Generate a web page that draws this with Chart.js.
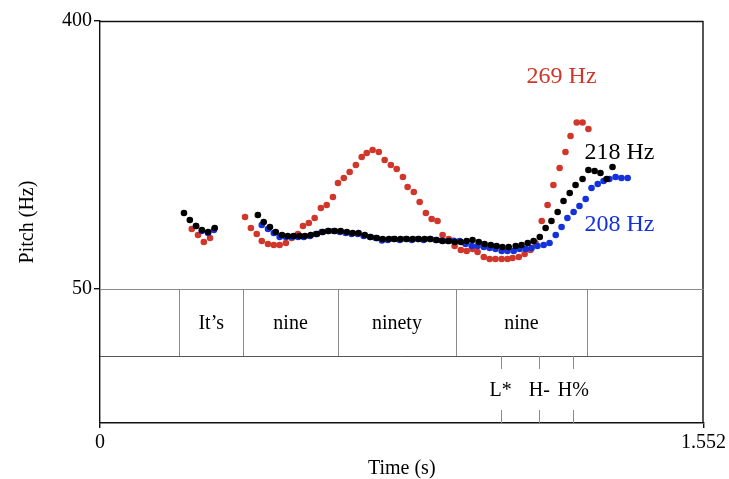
<!DOCTYPE html>
<html>
<head>
<meta charset="utf-8">
<title>Pitch tracks – It's nine ninety nine</title>
<script src="https://cdn.jsdelivr.net/npm/chart.js@4/dist/chart.umd.min.js"></script>
<style>
  html, body { margin:0; padding:0; background:#fff; }
  #wrap { width:729px; height:479px; }
</style>
</head>
<body>
<div id="wrap"><canvas id="pitch" width="729" height="479"></canvas></div>
<script>
// axes
const TIME_MAX = 1.552;
const PITCH_MIN = 50, PITCH_MAX = 400;
const TIME_TICKS = [0, 1.552];
const TIME_TICK_LABELS = ['0', '1.552'];
const PITCH_TICKS = [50, 400];

// pitch tracks (s, Hz)
const BLACK_T  = [0.216,0.231,0.247,0.262,0.278,0.295,
  0.406,0.421,0.437,0.452,0.468,0.483,0.498,0.514,0.527,0.542,
  0.558,0.573,0.588,0.604,0.619,0.635,0.650,0.665,0.681,0.696,
  0.712,0.727,0.743,0.758,0.773,0.789,0.804,0.820,0.835,0.850,
  0.866,0.881,0.897,0.912,0.928,0.943,0.958,0.974,0.989,1.005,
  1.020,1.035,1.051,1.069,1.084,1.100,1.115,1.131,1.146,1.161,
  1.177,1.192,1.208,1.223,1.241,1.256,1.272,1.287,1.303,1.318];
const BLACK_HZ = [149.3,140.1,132.3,127.0,124.4,129.7,
  146.6,137.5,131.0,124.4,120.5,119.2,119.2,119.2,119.2,120.5,
  121.8,124.4,125.7,125.7,125.7,124.4,123.1,123.1,120.5,117.9,
  116.6,115.3,115.3,115.3,115.3,115.3,115.3,115.3,115.3,115.3,
  114.0,112.7,112.7,111.4,111.4,112.7,114.0,111.4,108.8,107.5,
  106.1,104.8,104.8,106.1,107.5,110.1,112.7,117.9,129.7,138.8,
  150.6,164.9,175.4,185.8,193.7,205.4,204.1,201.5,193.7,209.3];

const BLUE_T  = [0.247,0.262,0.278,0.293,
  0.416,0.432,0.447,0.462,0.478,0.493,0.509,0.524,0.540,0.555,
  0.570,0.586,0.601,0.617,0.632,0.647,0.663,0.678,0.694,0.709,
  0.725,0.740,0.755,0.771,0.786,0.802,0.817,0.832,0.848,0.863,
  0.879,0.894,0.910,0.925,
  0.940,0.956,0.971,0.987,1.002,1.017,1.033,1.048,1.064,1.079,
  1.095,1.110,1.125,1.141,1.156,1.172,1.187,1.202,1.218,1.233,
  1.249,1.264,1.280,1.295,1.310,1.326,1.341,1.357];
const BLUE_HZ = [132.3,125.7,123.1,127.0,
  133.6,128.4,123.1,118.0,117.9,117.9,117.9,117.9,119.2,121.8,
  124.4,125.7,125.7,124.4,123.1,121.8,121.8,119.2,117.9,116.6,
  113.5,114.0,115.3,114.0,115.3,114.0,115.3,114.0,115.3,114.0,
  113.0,112.7,113.0,112.7,
  108.8,106.1,106.1,104.8,103.5,102.2,99.6,99.6,99.6,102.2,
  102.2,103.5,106.1,107.5,110.1,120.5,131.0,142.7,150.6,158.4,
  167.5,181.9,187.1,191.0,193.7,196.3,195.0,195.0];

const RED_T  = [0.236,0.252,0.267,0.283,
  0.373,0.388,0.403,0.416,0.432,0.447,0.462,0.478,0.493,0.509,
  0.522,0.537,0.552,0.568,0.583,0.599,0.612,0.627,0.642,0.658,
  0.673,0.686,0.701,0.717,0.732,0.748,0.763,0.779,0.791,0.807,
  0.822,0.838,0.853,0.868,0.881,0.897,0.912,0.928,0.943,0.958,
  0.971,0.987,1.002,1.017,1.033,1.048,1.061,1.077,1.092,1.107,
  1.120,1.136,1.151,1.166,1.182,1.197,1.210,1.226,1.241,1.256];
const RED_HZ = [128.4,120.5,111.4,116.6,
  144.0,129.7,121.8,112.7,108.8,107.5,107.5,110.1,116.6,121.8,
  132.3,136.2,142.7,155.8,159.7,170.1,188.4,195.0,202.8,211.9,
  222.4,227.6,231.5,228.9,218.5,211.9,206.7,196.3,183.2,176.7,
  163.6,149.2,141.4,138.8,120.5,115.3,106.1,100.9,99.6,102.2,
  98.3,91.8,89.2,89.2,89.2,89.2,90.5,91.8,95.7,101.0,
  110.1,138.8,159.7,185.8,208.0,228.9,249.8,267.5,267.5,259.0];

// text grid
const WORD_BOUNDS = [0.203, 0.369, 0.611, 0.916, 1.252];
const WORDS = ['It’s', 'nine', 'ninety', 'nine'];
const TONE_TIMES = [1.030, 1.130, 1.217];
const TONES = ['L*', 'H-', 'H%'];

// peak labels
const PEAK_TEXT = ['269 Hz', '218 Hz', '208 Hz'];
const PEAK_T = [1.187, 1.336, 1.336];
const PEAK_HZ = [327, 228, 134];

const RED = '#d0362a', BLUE = '#1432dc', BLACK = '#000';
const PEAK_COLORS = [RED, BLACK, BLUE];
const SERIF = "'Liberation Serif','Times New Roman',serif";

const pts = (ts, hs) => ts.map((t, i) => ({ x: t, y: hs[i] }));

// the tiers sit below the pitch panel and take half its height
const Y_MIN = PITCH_MIN - (PITCH_MAX - PITCH_MIN) * 0.5;

const tierPlugin = {
  id: 'praatTiers',
  afterDraw(chart) {
    const { ctx, chartArea: a, scales: { x, y } } = chart;
    const t1 = y.getPixelForValue(PITCH_MIN);
    const t2 = (t1 + a.bottom) / 2;
    const tick = 13;
    ctx.save();
    // frame
    ctx.strokeStyle = '#111'; ctx.lineWidth = 1.4;
    ctx.beginPath();
    ctx.moveTo(a.left, a.top + 0.5); ctx.lineTo(a.right, a.top + 0.5);
    ctx.moveTo(a.right - 0.5, a.top); ctx.lineTo(a.right - 0.5, a.bottom);
    ctx.stroke();
    // tier separators
    ctx.lineWidth = 1;
    ctx.strokeStyle = '#8a8a8a';
    ctx.beginPath(); ctx.moveTo(a.left, Math.round(t1) + 0.5); ctx.lineTo(a.right, Math.round(t1) + 0.5); ctx.stroke();
    ctx.strokeStyle = '#555';
    ctx.beginPath(); ctx.moveTo(a.left, Math.round(t2) + 0.5); ctx.lineTo(a.right, Math.round(t2) + 0.5); ctx.stroke();
    // word intervals
    ctx.strokeStyle = '#8a8a8a';
    ctx.beginPath();
    WORD_BOUNDS.forEach(t => {
      const px = Math.round(x.getPixelForValue(t)) + 0.5;
      ctx.moveTo(px, t1); ctx.lineTo(px, t2);
    });
    ctx.stroke();
    ctx.fillStyle = '#000';
    ctx.font = '20px ' + SERIF;
    ctx.textAlign = 'center'; ctx.textBaseline = 'middle';
    WORDS.forEach((w, i) => {
      const cx = (x.getPixelForValue(WORD_BOUNDS[i]) + x.getPixelForValue(WORD_BOUNDS[i + 1])) / 2;
      ctx.fillText(w, cx, (t1 + t2) / 2 + 1);
    });
    // tone points
    ctx.beginPath();
    TONE_TIMES.forEach(t => {
      const px = Math.round(x.getPixelForValue(t)) + 0.5;
      ctx.moveTo(px, t2); ctx.lineTo(px, t2 + tick);
      ctx.moveTo(px, a.bottom - tick); ctx.lineTo(px, a.bottom);
    });
    ctx.stroke();
    TONES.forEach((s, i) => ctx.fillText(s, x.getPixelForValue(TONE_TIMES[i]), (t2 + a.bottom) / 2 + 1));
    // peak labels
    ctx.font = '24px ' + SERIF;
    PEAK_TEXT.forEach((s, i) => {
      ctx.fillStyle = PEAK_COLORS[i];
      ctx.fillText(s, x.getPixelForValue(PEAK_T[i]), y.getPixelForValue(PEAK_HZ[i]));
    });
    ctx.restore();
  }
};

const dot = { pointRadius: 3.3, pointHoverRadius: 3.3, pointBorderWidth: 0, showLine: false };

new Chart(document.getElementById('pitch'), {
  type: 'scatter',
  data: {
    datasets: [
      { label: 'black', data: pts(BLACK_T, BLACK_HZ), backgroundColor: BLACK, ...dot },
      { label: 'blue',  data: pts(BLUE_T, BLUE_HZ),   backgroundColor: BLUE,  ...dot },
      { label: 'red',   data: pts(RED_T, RED_HZ),     backgroundColor: RED,   ...dot }
    ]
  },
  options: {
    responsive: false,
    animation: false,
    devicePixelRatio: 1,
    layout: { padding: { top: 21, right: 25, left: 0, bottom: 0 } },
    plugins: { legend: { display: false }, tooltip: { enabled: false } },
    scales: {
      x: {
        type: 'linear', min: 0, max: TIME_MAX,
        afterBuildTicks: s => { s.ticks = TIME_TICKS.map(v => ({ value: v })); },
        afterFit: s => { s.height = 56; },
        ticks: {
          callback: v => TIME_TICK_LABELS[TIME_TICKS.indexOf(v)],
          font: { family: SERIF, size: 20 }, color: '#000', padding: 3, maxRotation: 0, autoSkip: false
        },
        grid: { drawOnChartArea: false, tickLength: 5, color: '#111', lineWidth: 1.4 },
        border: { color: '#111', width: 1.4 },
        title: { display: true, text: 'Time (s)', font: { family: SERIF, size: 20, lineHeight: 1 }, color: '#000', padding: 0 }
      },
      y: {
        type: 'linear', min: Y_MIN, max: PITCH_MAX,
        afterBuildTicks: s => { s.ticks = PITCH_TICKS.map(v => ({ value: v })); },
        afterFit: s => { s.width = 100; },
        ticks: { font: { family: SERIF, size: 20 }, color: '#000', padding: 2 },
        grid: { drawOnChartArea: false, tickLength: 6, color: '#111', lineWidth: 1.4 },
        border: { color: '#111', width: 1.4 },
        title: { display: true, text: 'Pitch (Hz)', font: { family: SERIF, size: 20 }, color: '#000', padding: { top: 16 } }
      }
    }
  },
  plugins: [tierPlugin]
});
</script>
</body>
</html>
